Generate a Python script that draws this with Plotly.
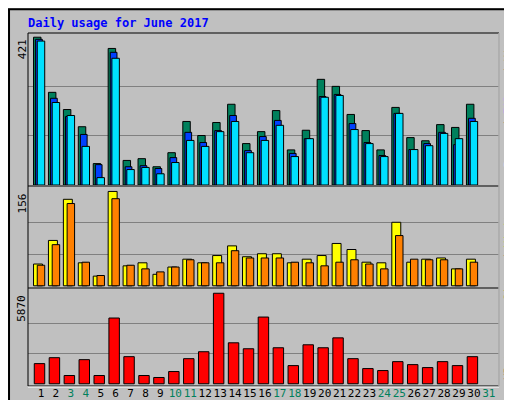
import plotly.graph_objects as go

days = list(range(1, 32))
weekend = [3, 4, 10, 11, 17, 18, 24, 25, 31]

hits = [421, 264, 215, 166, 61, 389, 70, 75, 52, 92, 181, 141, 178, 230, 118,
        152, 212, 100, 156, 301, 281, 201, 155, 100, 221, 135, 126, 172, 164, 230, None]
files = [415, 247, 195, 144, 58, 378, 52, 55, 47, 78, 150, 121, 155, 198, 98,
         138, 184, 90, 132, 252, 258, 175, 121, 84, 204, 101, 118, 150, 115, 190, None]
pages = [410, 235, 198, 110, 21, 361, 44, 50, 32, 64, 127, 110, 152, 181, 92,
         127, 170, 81, 132, 250, 255, 158, 118, 81, 204, 101, 112, 147, 132, 181, None]
visits = [36, 75, 143, 38, 16, 156, 33, 38, 19, 31, 44, 38, 50, 66, 48,
          53, 53, 38, 44, 50, 70, 60, 39, 38, 105, 39, 44, 46, 28, 44, None]
sites = [34, 68, 136, 39, 17, 144, 34, 28, 23, 31, 43, 38, 38, 58, 46,
         46, 46, 39, 38, 33, 39, 43, 36, 28, 83, 44, 43, 43, 28, 39, None]
kbytes = [1307, 1692, 536, 1564, 536, 4263, 1757, 536, 407, 793, 1628, 2078, 5870, 2656, 2271,
          4327, 2335, 1178, 2528, 2335, 2977, 1628, 985, 857, 1435, 1242, 1050, 1435, 1178, 1757, None]

GREY = "#c0c0c0"
FONT = "DejaVu Sans Mono"
H = 400.0


def py(p):
    return 1 - p / H


fig = go.Figure()

def bars(vals, color, offset, width, axis):
    fig.add_trace(go.Bar(x=days, y=vals, offset=offset, width=width,
                         marker=dict(color=color, line=dict(color="black", width=1)),
                         xaxis="x" + axis, yaxis="y" + axis, hoverinfo="skip"))

bars(hits, "#00805c", -0.5, 0.5, "")
bars(files, "#0040ff", -0.36, 0.45, "")
bars(pages, "#00e0ff", -0.25, 0.5, "")
bars(visits, "#ffff00", -0.5, 0.6, "2")
bars(sites, "#ff8000", -0.25, 0.5, "2")
bars(kbytes, "#ff0000", -0.45, 0.7, "3")

xr = [0.15, 31.66]
ticktext = [f"<span style='color:#00805c'>{d}</span>" if d in weekend else str(d) for d in days]
xbase = dict(range=xr, showgrid=False, zeroline=False, showline=False, automargin=False,
             domain=[20.3 / 512, 490.7 / 512])


def yax(mx, lo, hi, dom):
    return dict(domain=dom, range=[lo, hi], tickvals=[mx / 3, 2 * mx / 3],
                showticklabels=False, ticks="", gridcolor="#808080", gridwidth=1,
                zeroline=False, showline=False, automargin=False)


fig.update_layout(
    width=512, height=400, margin=dict(l=0, r=0, t=0, b=0, pad=0, autoexpand=False),
    paper_bgcolor=GREY, plot_bgcolor=GREY, showlegend=False, barmode="overlay",
    font=dict(family=FONT, size=11, color="black"),
    xaxis=dict(anchor="y", showticklabels=False, **xbase),
    xaxis2=dict(anchor="y2", showticklabels=False, **xbase),
    xaxis3=dict(anchor="y3", tickmode="array", tickangle=0,
                tickvals=days, ticktext=ticktext, ticks="", ticklen=0,
                tickfont=dict(family=FONT, size=11, color="black"), **xbase),
    yaxis=yax(421, 0, 433, [py(177), py(25)]),
    yaxis2=yax(156, -2, 165, [py(279), py(178)]),
    yaxis3=yax(5870, -80, 6146, [py(377), py(281)]),
)

fig.add_annotation(text="<b>Daily usage for June 2017</b>", xref="paper", yref="paper",
                   x=18 / 512, y=py(15), xanchor="left", yanchor="middle", showarrow=False,
                   font=dict(family=FONT, size=12, color="#0000ff"))

# panel frames and outer bevel
shapes = [
    dict(type="rect", xref="paper", yref="paper", x0=0.002, x1=0.998, y0=0.003, y1=0.997,
         line=dict(color="black", width=2)),
    dict(type="rect", xref="paper", yref="paper", x0=507 / 512, x1=510 / 512, y0=py(396), y1=py(4),
         fillcolor="#808080", line=dict(width=0)),
    dict(type="rect", xref="paper", yref="paper", x0=4 / 512, x1=510 / 512, y0=py(398), y1=py(395),
         fillcolor="#808080", line=dict(width=0)),
    dict(type="rect", xref="paper", yref="paper", x0=20 / 512, x1=491 / 512, y0=py(378), y1=py(25),
         line=dict(color="black", width=1)),
    dict(type="line", xref="paper", yref="paper", x0=20 / 512, x1=491 / 512, y0=py(178), y1=py(178),
         line=dict(color="black", width=1)),
    dict(type="line", xref="paper", yref="paper", x0=20 / 512, x1=491 / 512, y0=py(280), y1=py(280),
         line=dict(color="black", width=1)),
    dict(type="line", xref="paper", yref="paper", x0=491 / 512, x1=491 / 512, y0=py(378), y1=py(25),
         line=dict(color="white", width=1)),
    dict(type="line", xref="paper", yref="paper", x0=20 / 512, x1=491 / 512, y0=py(379), y1=py(379),
         line=dict(color="white", width=1)),
]
fig.update_layout(shapes=shapes)

for txt, ax, val in [("421", "y", 421), ("156", "y2", 156), ("5870", "y3", 5870)]:
    fig.add_annotation(text=txt, xref="paper", yref=ax, x=14 / 512, y=val, textangle=-90,
                       showarrow=False, xanchor="center", yanchor="top",
                       font=dict(family=FONT, size=11, color="black"))

side = [
    ("<span style='color:#00e0ff'>Pages</span> / <span style='color:#0040ff'>Files</span>"
     " / <span style='color:#00805c'>Hits</span>", py(25)),
    ("<span style='color:#ff8000'>Sites</span> / <span style='color:#ffff00'>Visits</span>", py(198)),
    ("<span style='color:#ff0000'>KBytes</span>", py(330)),
]
for txt, yy in side:
    fig.add_annotation(text=txt, xref="paper", yref="paper", x=500 / 512, y=yy, textangle=-90,
                       showarrow=False, xanchor="center", yanchor="top",
                       font=dict(family=FONT, size=11, color="black"))

fig.write_html("out.html")
